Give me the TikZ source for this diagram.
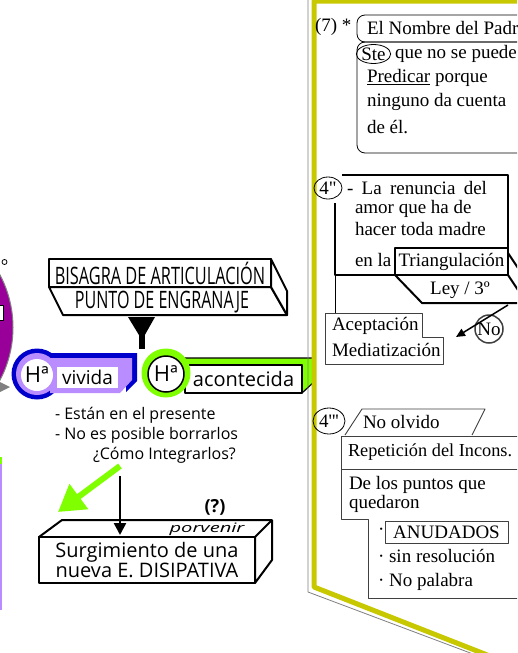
\documentclass[tikz,border=0pt]{standalone}
\usepackage{fontspec}
\setmainfont{Liberation Serif}[Ligatures=TeXOff]
\newfontfamily\comicfont{Open Sans}
\usetikzlibrary{arrows.meta,shapes.geometric}
\definecolor{bmYellow}{HTML}{C8C800}
\definecolor{bmGrey}{HTML}{808080}
\definecolor{bmDark}{HTML}{404040}
\definecolor{bmBlue}{HTML}{0000CC}
\definecolor{bmLavender}{HTML}{B98CFF}
\definecolor{bmGreen}{HTML}{80FF00}
\definecolor{bmPurple}{HTML}{990099}

\begin{document}
\begin{tikzpicture}[
    x=1pt, y=-1pt,
    line join=round,
    every node/.style={inner sep=0pt, outer sep=0pt},
    solid3d/.style={draw=black, line width=2pt, fill=white},
    rmtext/.style={font=\fontsize{19}{22}\selectfont},
    serif/.style={rmtext, anchor=west},
    comic/.style={font=\fontsize{16}{20}\comicfont},
    thinframe/.style={draw=bmDark, line width=0.9pt},
    roundframe/.style={draw=black, line width=0.8pt, rounded corners=8pt},
]

\useasboundingbox (0,0) rectangle (517,653);
\clip (0,0) rectangle (517,653);
\fill[white] (0,0) rectangle (517,653);

% ----------------------------------------------------------------------
% Left edge: pieces of the neighbouring slide
% ----------------------------------------------------------------------
\fill[bmPurple, draw=bmGrey, line width=1pt] (-99.5,327.5) circle (112.5);
\draw[fill=white, line width=1pt] (-5,305) rectangle (3,320);
\draw[line width=0.8pt] (4.5,262) circle (2.5);
\fill[bmGrey] (0,382) -- (10,387) -- (0,392) -- cycle;
\draw[bmLavender, line width=2.5pt] (1,460) -- (1,610);
\draw[bmGreen, line width=2.5pt] (1,457) -- (1,464);

% ----------------------------------------------------------------------
% Hinge block
% ----------------------------------------------------------------------
\draw[solid3d] (49,287) -- (271,287) -- (287,315) -- (63,315) -- cycle;
\draw[solid3d] (271,259) -- (287,291) -- (287,315) -- (271,287) -- cycle;
\draw[solid3d] (49,259) rectangle (271,287);
\node[font=\fontsize{24}{28}\comicfont] (bisagra) at (160,273)
    {\scalebox{0.68}[1]{BISAGRA DE ARTICULACIÓN}};
\node[font=\fontsize{24}{28}\comicfont] (engranaje) at (162,302)
    {\scalebox{0.67}[1]{PUNTO DE ENGRANAJE}};

% funnel down to the joint
\fill (128,317) -- (155,317) -- (142,340) -- cycle;
\fill (139,328) rectangle (145,349);

% ----------------------------------------------------------------------
% Ha vivida / Ha acontecida
% ----------------------------------------------------------------------
\fill[bmBlue] (37,374) circle (25.5);
\fill[bmBlue] (40,353) -- (137,353) -- (137,381) -- (126,392) -- (126,358) -- (40,358) -- cycle;
\fill[bmLavender] (50,358) -- (132,358) -- (132,380) -- (120,393) -- (50,393) -- cycle;
\fill[bmLavender] (37,374) circle (21);
\node[circle, fill=white, minimum size=32pt,
      font=\fontsize{22}{26}\comicfont] (hvivida) at (37,375) {Hª};
\node[fill=white, minimum width=61pt, minimum height=21pt,
      font=\fontsize{19}{24}\comicfont] (vivida) at (87.5,377.5) {vivida};

\draw[black, line width=1.2pt, fill=bmGreen]
    (180,358) -- (315,358) -- (315,381) -- (302,393) -- (302,365) -- (180,365) -- cycle;
\node[draw=black, line width=1.5pt, fill=white, minimum width=117pt, minimum height=28pt,
      font=\fontsize{20}{24}\comicfont] (acontecida) at (243.5,379) {acontecida};
\fill[bmGreen] (166,373) circle (24.5);
\node[circle, draw=black, line width=1.5pt, fill=white, minimum size=36pt,
      font=\fontsize{22}{26}\comicfont] (hacontecida) at (166,374) {Hª};

% ----------------------------------------------------------------------
% Notes and arrows towards the new structure
% ----------------------------------------------------------------------
\node[comic, anchor=west] (presente) at (55,415) {- Están en el presente};
\node[comic, anchor=west] (borrar) at (55,435) {- No es posible borrarlos};
\node[comic, anchor=west] (integrar) at (93,455) {¿Cómo Integrarlos?};

\coordinate (greentail) at (120,466);
\coordinate (greentip) at (58,512);
\draw[bmGreen, line width=6pt, -{Triangle[length=26pt, width=30pt]}] (greentail) -- (greentip);

\node[font=\fontsize{18}{22}\comicfont\bfseries] (duda) at (215,507) {(?)};

\draw[solid3d] (39,537) -- (62,520) -- (272,520) -- (272,560) -- (255,583) -- (255,537) -- cycle;
\draw[solid3d] (255,537) -- (272,520);
\node[font=\fontsize{13}{16}\comicfont] (porvenir) at (207,529)
    {\scalebox{1.55}[1]{\itshape porvenir}};
\node[draw, line width=2pt, fill=white, minimum width=216pt, minimum height=46pt,
      align=center, font=\fontsize{20}{20}\comicfont] (surgimiento) at (147,560)
    {Surgimiento de una\\nueva E. DISIPATIVA};

\coordinate (downtail) at (120,476);
\coordinate (downtip) at (120,535);
\draw[line width=2.5pt, -{Triangle[length=12pt, width=12pt]}] (downtail) -- (downtip);

% ----------------------------------------------------------------------
% Right panel frame
% ----------------------------------------------------------------------
\draw[bmGrey, line width=0.8pt] (308,-5) -- (308,592) -- (489,660);
\draw[bmYellow, line width=5pt] (540,1) -- (314,1) -- (314,587) -- (500,660);

% (7) block
\node[serif] (siete) at (315,27) {(7) *};
\draw[roundframe] (357,15) rectangle (540,42);
\node[serif] (nombre) at (367,28) {El Nombre del Padre};
\draw[roundframe] (357,42) rectangle (540,153);
\node[ellipse, draw, line width=0.8pt, minimum width=34pt, minimum height=19pt, rmtext] (ste) at (373.5,54) {Ste};
\node[serif] (puede) at (395,54) {que no se puede};
\node[serif] (predicar) at (367,78) {\underline{Predicar} porque};
\node[serif] (ninguno) at (367,102) {ninguno da cuenta};
\node[serif] (deel) at (367,127) {de él.};

% 4" block
\node[ellipse, draw, line width=0.8pt, minimum width=28pt, minimum height=22pt, rmtext] (cuatroB) at (328,188) {4"};
\draw[line width=2pt] (342,175) -- (508,175) -- (508,248);
\draw[line width=2pt] (335,203) -- (335,275) -- (395,275);
\node[serif] (renuncia) at (347,188) {\makebox[140pt][s]{- La renuncia del}};
\node[serif] (amor) at (355,209) {amor que ha de};
\node[serif] (hacer) at (355,229) {hacer toda madre};
\node[serif] (enla) at (355,260) {en la};
\node[draw, line width=2pt, minimum width=113pt, minimum height=27pt, rmtext] (triang) at (451.5,261.5) {Triangulación};
\draw[line width=2pt] (508,253) -- (520,271);
\draw[line width=2pt] (triang.south west) -- (422,303) -- (530,303);
\draw[line width=2pt] (triang.south east) -- (520,293);
\node[rmtext] (ley) at (460,290) {Ley / 3º};

\draw[line width=0.6pt] (335,275) -- (335,313);
\draw[thinframe] (325,313) -- (422,313) -- (422,337) -- (443,337) -- (443,364) -- (325,364) -- cycle;
\node[serif] (acept) at (332,326) {Aceptación};
\node[serif] (mediat) at (332,350) {Mediatización};
\node[circle, draw=bmDark, line width=1.5pt, minimum size=28pt, rmtext] (no) at (489,329) {No};
\coordinate (leyfoot) at (508,305);
\coordinate (medtip) at (456,337);
\draw[line width=1.5pt, -{Triangle[length=9pt, width=8pt]}] (leyfoot) -- (medtip);

% 4''' block
\node[ellipse, draw, line width=0.8pt, minimum width=32pt, minimum height=26pt, rmtext] (cuatroC) at (329,421) {4'''};
\draw[thinframe] (345,435) -- (362,409) -- (485,409) -- (472,435);
\node[serif] (olvido) at (363,422) {No olvido};
\draw[thinframe] (341,436) rectangle (540,469);
\node[serif, font=\fontsize{18.3}{22}\selectfont] (repet) at (348,452) {Repetición del Incons.};
\draw[thinframe] (341,469) -- (341,519) -- (368,519) -- (368,598) -- (540,598);
\node[serif] (puntos) at (349,485) {De los puntos que};
\node[serif] (quedaron) at (349,504) {quedaron};
\node[serif] (punto) at (378,532) {·};
\node[draw=bmDark, line width=0.9pt, minimum width=123pt, minimum height=22pt, rmtext] (anudados) at (446.5,532) {ANUDADOS};
\foreach \y/\txt/\nm in {556/sin resolución/sinres, 582/No palabra/nopalabra}
    \node[serif] (\nm) at (378,\y) {· \txt};

\end{tikzpicture}
\end{document}
